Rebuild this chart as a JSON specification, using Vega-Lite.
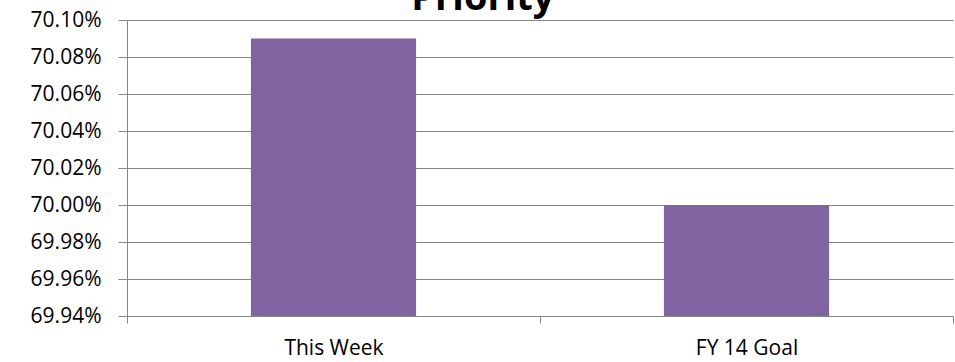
{
  "$schema": "https://vega.github.io/schema/vega-lite/v6.json",
  "autosize": {"type": "none"},
  "width": 826,
  "height": 296,
  "padding": {"left": 127, "top": 20, "right": 2, "bottom": 46},
  "background": "white",
  "title": {
    "text": "Priority",
    "font": "Open Sans",
    "fontSize": 38,
    "fontWeight": "bold",
    "color": "black",
    "anchor": "middle",
    "frame": "bounds",
    "offset": -9,
    "dx": -9
  },
  "data": {
    "values": [
      {"category": "This Week", "value": 0.7009},
      {"category": "FY 14 Goal", "value": 0.7000}
    ]
  },
  "mark": {"type": "bar", "color": "#8064A2", "width": {"band": 0.4}},
  "encoding": {
    "x": {
      "field": "category",
      "type": "nominal",
      "sort": null,
      "title": null,
      "scale": {"paddingInner": 0, "paddingOuter": 0},
      "axis": {
        "labelAngle": 0,
        "labelFont": "Open Sans",
        "labelFontSize": 21,
        "labelColor": "black",
        "labelPadding": 14,
        "tickBand": "extent",
        "tickSize": 7,
        "tickColor": "#868686",
        "domainColor": "#868686",
        "grid": false
      }
    },
    "y": {
      "field": "value",
      "type": "quantitative",
      "title": null,
      "scale": {"domain": [0.6994, 0.7010], "zero": false, "nice": false},
      "axis": {
        "values": [0.6994, 0.6996, 0.6998, 0.7000, 0.7002, 0.7004, 0.7006, 0.7008, 0.7010],
        "format": ".2%",
        "labelFont": "Open Sans",
        "labelFontSize": 21,
        "labelColor": "black",
        "labelPadding": 17,
        "tickSize": 9,
        "tickColor": "#868686",
        "domainColor": "#868686",
        "gridColor": "#868686",
        "gridWidth": 1
      }
    },
    "y2": {"datum": 0.6994}
  },
  "config": {"view": {"stroke": null}}
}
